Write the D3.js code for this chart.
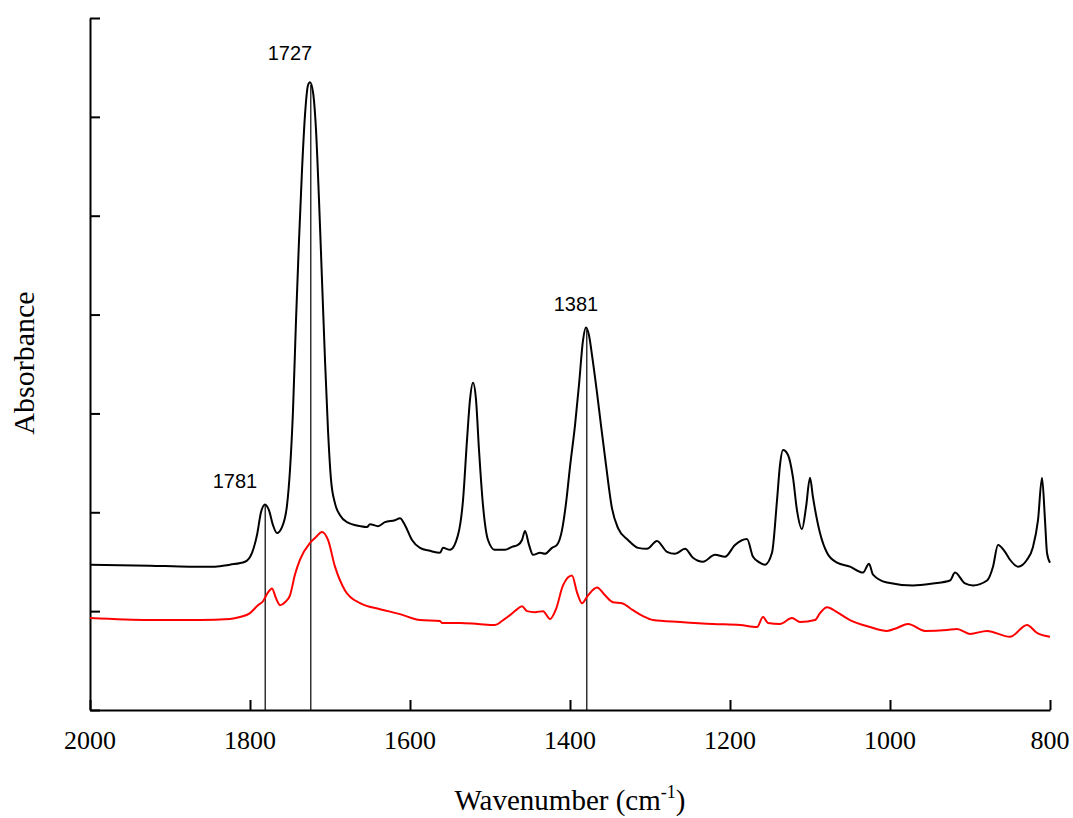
<!DOCTYPE html>
<html>
<head>
<meta charset="utf-8">
<script src="https://cdn.jsdelivr.net/npm/d3@7"></script>
<style>
  body { margin: 0; background: #fff; }
  svg { display: block; }
  .serif { font-family: "Liberation Serif", "Times New Roman", serif; }
</style>
</head>
<body>
<div id="chart"></div>
<script>
// -----------------------------
// Data
// -----------------------------
const blackWavenumber = [2000, 1925, 1875, 1862.5, 1843.75, 1825, 1806.25, 1797.5, 1791.25, 1786.25,
  1781.25, 1776.25, 1771.25, 1766.25, 1760, 1753.75, 1750, 1746.25, 1742.5, 1738.75,
  1735, 1731.25, 1727.5, 1725, 1721.25, 1717.5, 1713.75, 1710, 1706.25, 1702.5,
  1698.75, 1693.75, 1687.5, 1678.75, 1662.5, 1653.75, 1650, 1640, 1631.25, 1618.75,
  1612.5, 1606.25, 1597.5, 1587.5, 1575, 1562.5, 1558.75, 1550, 1540, 1533.75,
  1528.75, 1525, 1521.25, 1517.5, 1513.75, 1508.75, 1502.5, 1493.75, 1481.25, 1472.5,
  1465, 1460, 1456.25, 1451.25, 1446.25, 1437.5, 1431.25, 1422.5, 1416.25, 1410,
  1405, 1400, 1393.75, 1388.75, 1383.75, 1380, 1376.25, 1372.5, 1366.25, 1361.25,
  1355, 1347.5, 1340, 1327.5, 1315, 1303.75, 1291.25, 1278.75, 1268.75, 1256.25,
  1246.25, 1233.75, 1218.75, 1206.25, 1193.75, 1178.75, 1171.25, 1162.5, 1156.25, 1147.5,
  1141.25, 1137.5, 1133.75, 1127.5, 1121.25, 1116.25, 1110, 1105, 1100, 1096.25,
  1087.5, 1078.75, 1066.25, 1050, 1033.75, 1026.25, 1021.25, 1003.75, 971.25, 946.25,
  925, 918.75, 906.25, 896.25, 878.75, 871.25, 865, 856.25, 850, 840,
  828.75, 821.25, 815, 810, 806.25, 803.75, 800];
const blackAbsorbance = [0.147, 0.146, 0.145, 0.145, 0.145, 0.147, 0.150, 0.159, 0.177, 0.200,
  0.208, 0.202, 0.187, 0.179, 0.185, 0.207, 0.243, 0.303, 0.394, 0.475,
  0.546, 0.602, 0.632, 0.635, 0.625, 0.587, 0.516, 0.435, 0.354, 0.283,
  0.233, 0.209, 0.197, 0.190, 0.186, 0.185, 0.188, 0.186, 0.190, 0.192,
  0.194, 0.187, 0.172, 0.164, 0.161, 0.159, 0.164, 0.162, 0.177, 0.212,
  0.273, 0.314, 0.331, 0.314, 0.263, 0.207, 0.172, 0.162, 0.162, 0.165,
  0.167, 0.172, 0.181, 0.167, 0.157, 0.159, 0.158, 0.164, 0.167, 0.182,
  0.209, 0.246, 0.288, 0.329, 0.374, 0.387, 0.379, 0.359, 0.321, 0.288,
  0.248, 0.204, 0.184, 0.172, 0.164, 0.163, 0.171, 0.160, 0.158, 0.163,
  0.154, 0.150, 0.157, 0.155, 0.167, 0.173, 0.155, 0.149, 0.147, 0.159,
  0.212, 0.248, 0.263, 0.258, 0.235, 0.202, 0.183, 0.205, 0.235, 0.215,
  0.179, 0.159, 0.149, 0.145, 0.139, 0.148, 0.137, 0.129, 0.126, 0.128,
  0.131, 0.139, 0.128, 0.126, 0.131, 0.145, 0.167, 0.160, 0.152, 0.145,
  0.152, 0.165, 0.192, 0.235, 0.192, 0.159, 0.149];

const redWavenumber = [2000, 1925, 1862.5, 1825, 1812.5, 1800, 1790, 1783.75, 1777.5, 1772.5,
  1767.5, 1762.5, 1756.25, 1750, 1743.75, 1737.5, 1725, 1717.5, 1710, 1702.5,
  1693.75, 1681.25, 1662.5, 1637.5, 1612.5, 1587.5, 1562.5, 1560, 1537.5, 1515,
  1493.75, 1485, 1475, 1467.5, 1460, 1453.75, 1443.75, 1433.75, 1425, 1417.5,
  1408.75, 1397.5, 1391.25, 1385, 1377.5, 1366.25, 1356.25, 1346.25, 1335, 1321.25,
  1308.75, 1296.25, 1262.5, 1221.25, 1187.5, 1166.25, 1158.75, 1152.5, 1137.5, 1122.5,
  1112.5, 1093.75, 1087.5, 1078.75, 1066.25, 1050, 1025, 1003.75, 991.25, 977.5,
  956.25, 928.75, 916.25, 900, 878.75, 850, 828.75, 816.25, 800];
const redAbsorbance = [0.093, 0.091, 0.091, 0.092, 0.094, 0.098, 0.106, 0.110, 0.119, 0.123,
  0.113, 0.106, 0.109, 0.116, 0.137, 0.152, 0.169, 0.175, 0.180, 0.172,
  0.145, 0.121, 0.108, 0.102, 0.097, 0.091, 0.090, 0.088, 0.088, 0.087,
  0.086, 0.090, 0.096, 0.101, 0.105, 0.100, 0.099, 0.100, 0.092, 0.102,
  0.126, 0.136, 0.119, 0.108, 0.116, 0.124, 0.116, 0.109, 0.108, 0.101,
  0.095, 0.091, 0.089, 0.087, 0.086, 0.084, 0.094, 0.088, 0.087, 0.093,
  0.089, 0.091, 0.098, 0.104, 0.099, 0.091, 0.084, 0.080, 0.083, 0.087,
  0.080, 0.081, 0.082, 0.077, 0.080, 0.074, 0.086, 0.078, 0.074];

const xTicks = [2000, 1800, 1600, 1400, 1200, 1000, 800];
const yTicks = [0, 0.1, 0.2, 0.3, 0.4, 0.5, 0.6, 0.7];

// peak markers: line position, label text, label anchor (data units)
const peakLines = [1781, 1724, 1379];
const peakLabels = ["1781", "1727", "1381"];
const peakLabelWn = [1818.75, 1750, 1392.5];
const peakLabelAbs = [0.2246, 0.6575, 0.4036];

// -----------------------------
// Layout
// -----------------------------
const width = 1073, height = 818;
const x = d3.scaleLinear().domain([2000, 800]).range([90, 1050]);
const y = d3.scaleLinear().domain([0, 0.7]).range([710, 18]);

const svg = d3.select("#chart").append("svg")
  .attr("width", width)
  .attr("height", height);

const black = blackWavenumber.map((w, i) => [w, blackAbsorbance[i]]);
const red = redWavenumber.map((w, i) => [w, redAbsorbance[i]]);

// interpolate black spectrum at a wavenumber (for the marker line tops)
function blackAt(w) {
  for (let i = 0; i < black.length - 1; i++) {
    const [w0, a0] = black[i], [w1, a1] = black[i + 1];
    if (w <= w0 && w >= w1) return a0 + (a1 - a0) * (w0 - w) / (w0 - w1);
  }
  return 0;
}

// -----------------------------
// Axes
// -----------------------------
const xAxis = svg.append("g")
  .attr("transform", `translate(0,${y(0)})`)
  .call(d3.axisBottom(x).tickValues(xTicks).tickSize(-10).tickSizeOuter(0).tickFormat(""));

const yAxis = svg.append("g")
  .attr("transform", `translate(${x(2000)},0)`)
  .call(d3.axisRight(y).tickValues(yTicks).tickSize(10).tickSizeOuter(0).tickFormat(""));

[xAxis, yAxis].forEach(g => {
  g.select(".domain").attr("stroke", "#000").attr("stroke-width", 2);
  g.selectAll(".tick line").attr("stroke", "#000").attr("stroke-width", 2);
});

// tick labels drawn as plain text so the serif face sticks
svg.append("g")
  .selectAll("text")
  .data(xTicks)
  .join("text")
  .attr("class", "serif")
  .attr("x", d => x(d))
  .attr("y", y(0) + 39)
  .attr("text-anchor", "middle")
  .style("font-size", "26px")
  .text(d => d);

// axis titles
const xTitle = svg.append("text")
  .attr("class", "serif")
  .attr("x", 570)
  .attr("y", 810)
  .attr("text-anchor", "middle")
  .style("font-size", "29px");
xTitle.append("tspan").text("Wavenumber (cm");
xTitle.append("tspan").attr("dy", -12).style("font-size", "18px").text("-1");
xTitle.append("tspan").attr("dy", 12).text(")");

svg.append("text")
  .attr("class", "serif")
  .attr("transform", "translate(34,363) rotate(-90)")
  .attr("text-anchor", "middle")
  .style("font-size", "30px")
  .text("Absorbance");

// -----------------------------
// Peak marker lines
// -----------------------------
svg.selectAll("line.peak")
  .data(peakLines)
  .join("line")
  .attr("class", "peak")
  .attr("x1", d => x(d))
  .attr("x2", d => x(d))
  .attr("y1", d => y(blackAt(d)))
  .attr("y2", y(0))
  .attr("stroke", "#000")
  .attr("stroke-width", 1.2);

// -----------------------------
// Spectra
// -----------------------------
const line = d3.line()
  .x(d => x(d[0]))
  .y(d => y(d[1]))
  .curve(d3.curveMonotoneX);

svg.append("path")
  .datum(red)
  .attr("d", line)
  .attr("fill", "none")
  .attr("stroke", "#ff0000")
  .attr("stroke-width", 2);

svg.append("path")
  .datum(black)
  .attr("d", line)
  .attr("fill", "none")
  .attr("stroke", "#000")
  .attr("stroke-width", 2);

// -----------------------------
// Peak labels
// -----------------------------
svg.selectAll("text.peak-label")
  .data(peakLabels)
  .join("text")
  .attr("class", "peak-label")
  .attr("x", (d, i) => x(peakLabelWn[i]))
  .attr("y", (d, i) => y(peakLabelAbs[i]))
  .attr("text-anchor", "middle")
  .style("font-family", "'Liberation Sans', Arial, sans-serif")
  .style("font-size", "20px")
  .text(d => d);
</script>
</body>
</html>
